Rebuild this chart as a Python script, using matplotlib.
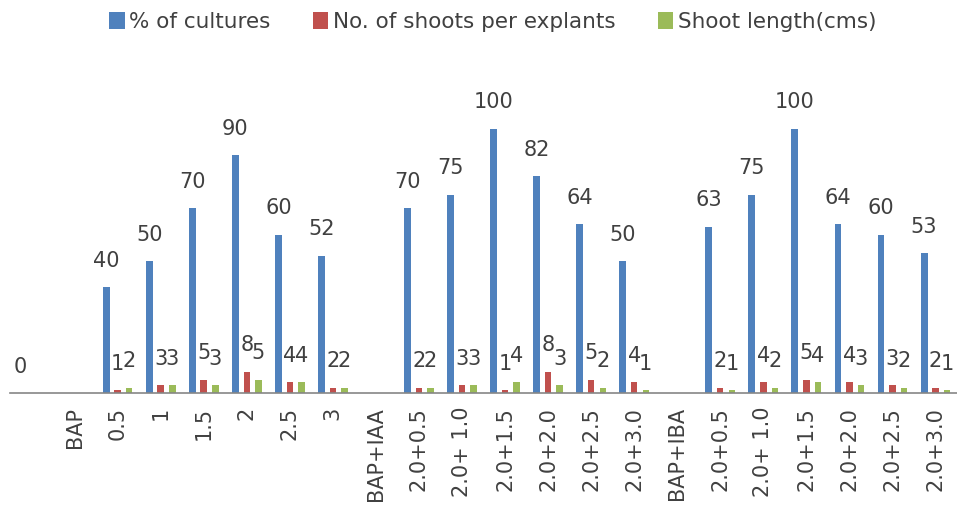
import numpy as np
import matplotlib
matplotlib.use("Agg")
import matplotlib.pyplot as plt

categories = ["", "BAP", "0.5", "1", "1.5", "2", "2.5", "3",
              "BAP+IAA", "2.0+0.5", "2.0+ 1.0", "2.0+1.5", "2.0+2.0", "2.0+2.5", "2.0+3.0",
              "BAP+IBA", "2.0+0.5", "2.0+ 1.0", "2.0+1.5", "2.0+2.0", "2.0+2.5", "2.0+3.0"]
nan = np.nan
pct_cultures = [0, nan, 40, 50, 70, 90, 60, 52,
                nan, 70, 75, 100, 82, 64, 50,
                nan, 63, 75, 100, 64, 60, 53]
shoots_per_explant = [nan, nan, 1, 3, 5, 8, 4, 2,
                      nan, 2, 3, 1, 8, 5, 4,
                      nan, 2, 4, 5, 4, 3, 2]
shoot_length = [nan, nan, 2, 3, 3, 5, 4, 2,
                nan, 2, 3, 4, 3, 2, 1,
                nan, 1, 2, 4, 3, 2, 1]

series = [
    ("% of cultures", pct_cultures, "#4F81BD", -0.265, 0.16),
    ("No. of shoots per explants", shoots_per_explant, "#C0504D", 0.0, 0.15),
    ("Shoot length(cms)", shoot_length, "#9BBB59", 0.27, 0.15),
]

fig = plt.figure(figsize=(9.57, 5.13), dpi=100)
ax = fig.add_axes([10/957, 1 - 393/513, 1 - 10/957, (393 - 76)/513])

x = np.arange(len(categories))
txt_color = "#404040"
for name, vals, color, off, w in series:
    v = np.array(vals, dtype=float)
    ax.bar(x + off, np.nan_to_num(v), width=w, color=color, label=name, zorder=2)
    for xi, vi in zip(x, v):
        if np.isnan(vi):
            continue
        ax.annotate(f"{vi:g}", xy=(xi + off, vi), xytext=(0, 19),
                    textcoords="offset points", ha="center", va="center",
                    fontsize=15, color=txt_color)

ax.set_xlim(-0.5, 21.5)
ax.set_ylim(0, 120)
ax.set_xticks(x)
ax.set_xticklabels(categories, rotation=90, fontsize=15, color=txt_color)
ax.tick_params(axis="x", length=0, pad=10)
ax.set_yticks([])
for s in ["top", "right", "left"]:
    ax.spines[s].set_visible(False)
ax.spines["bottom"].set_color("#868686")
ax.spines["bottom"].set_linewidth(1.2)

handles, labels = ax.get_legend_handles_labels()
fig.legend(handles, labels, loc="center", bbox_to_anchor=(0.515, 1 - 22/513),
           ncol=3, frameon=False, fontsize=15.5, handlelength=0.7, handleheight=0.8,
           handletextpad=0.2, columnspacing=2.0, labelcolor=txt_color)

fig.savefig("out.png", dpi=100, facecolor="white")
